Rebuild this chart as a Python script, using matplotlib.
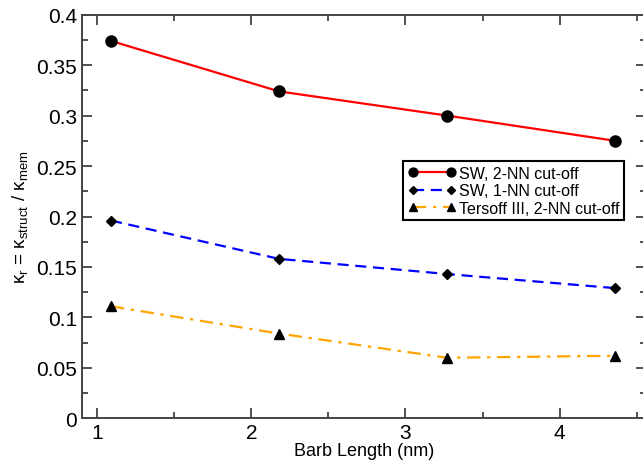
import matplotlib.pyplot as plt
from matplotlib.ticker import MultipleLocator

plt.rcParams['font.family'] = ['Liberation Sans', 'DejaVu Sans']
plt.rcParams['mathtext.fontset'] = 'custom'
plt.rcParams['mathtext.rm'] = 'Liberation Sans'
plt.rcParams['mathtext.it'] = 'Liberation Sans'
plt.rcParams['mathtext.default'] = 'regular'

# === Data ===
barb_length = [1.09, 2.18, 3.27, 4.36]
sw_2nn = [0.374, 0.324, 0.300, 0.275]
sw_1nn = [0.196, 0.158, 0.143, 0.129]
tersoff_2nn = [0.111, 0.084, 0.060, 0.062]

labels = ["SW, 2-NN cut-off", "SW, 1-NN cut-off", "Tersoff III, 2-NN cut-off"]

# === Plot ===
fig = plt.figure(figsize=(6.43, 4.64), dpi=100)
ax = fig.add_axes([81.7 / 643, 1 - 419.3 / 464, (646 - 81.7) / 643, (419.3 - 15.7) / 464])

ax.plot(barb_length, sw_2nn, color="red", lw=1.6, marker="o", ms=8,
        mfc="black", mec="black", label=labels[0])
ax.plot(barb_length, sw_1nn, color="blue", lw=1.6, ls=(0, (5, 3)), marker="D", ms=5.5,
        mfc="black", mec="black", label=labels[1])
ax.plot(barb_length, tersoff_2nn, color="orange", lw=1.6, ls=(0, (6, 3, 1.5, 3)), marker="^", ms=7.5,
        mfc="black", mec="black", label=labels[2])

ax.set_xlim(0.9, 4.56)
ax.set_ylim(0, 0.4)
ax.xaxis.set_major_locator(MultipleLocator(1))
ax.xaxis.set_minor_locator(MultipleLocator(0.5))
ax.yaxis.set_major_locator(MultipleLocator(0.05))
ax.yaxis.set_minor_locator(MultipleLocator(0.025))
ax.yaxis.set_major_formatter(plt.FuncFormatter(lambda v, p: "0" if v == 0 else f"{v:g}"))

ax.tick_params(which="both", direction="in", top=True, right=True, colors="#333333",
               labelcolor="black", labelsize=15)
ax.tick_params(which="major", length=7, width=1.2)
ax.tick_params(which="minor", length=4, width=1.2)
for s in ax.spines.values():
    s.set_linewidth(1.4)
    s.set_color("#444444")

ax.set_xlabel("Barb Length (nm)", fontsize=13, labelpad=0)
ax.set_ylabel(r"κ$_r$ = κ$_{struct}$ / κ$_{mem}$", fontsize=13.5, labelpad=4)

leg = ax.legend(loc="upper left", bbox_to_anchor=(403 / 643, 1 - 162 / 464),
                bbox_transform=fig.transFigure, borderaxespad=0, fontsize=11.5,
                numpoints=2, markerscale=0.8, handlelength=3.0, handletextpad=0.2,
                labelspacing=0.15, borderpad=0.3, fancybox=False, framealpha=1)
leg.get_frame().set_edgecolor("black")
leg.get_frame().set_linewidth(1.5)

plt.savefig("out.png", dpi=100)
